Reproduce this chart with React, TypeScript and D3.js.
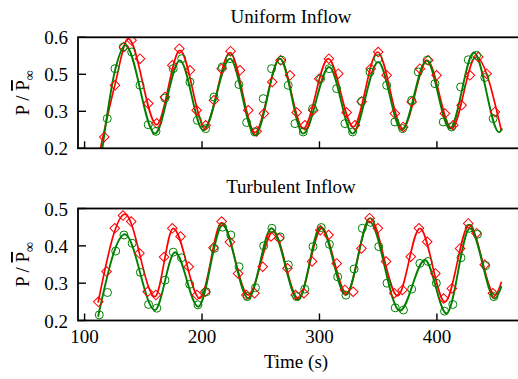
import React from "react";
import * as d3 from "d3";

const W = 518;
const H = 379;

// x axis
const xDomain = [94.4, 475];
const xTicks = [100, 200, 300, 400];

// y ticks (top panel: 4 evenly spaced ticks formatted to one decimal)
const topYDomain = [0.2, 0.6];
const topYTicks = [0.2, 0.3333, 0.4667, 0.6];
const botYDomain = [0.2, 0.5];
const botYTicks = [0.2, 0.3, 0.4, 0.5];

// ---- Uniform inflow: smooth curves (turning points) ----
const topRedLine: [number, number][] = [
  [112.5, 0.18], [125.9, 0.43], [137.2, 0.595], [161.4, 0.285], [181.2, 0.553],
  [202.5, 0.277], [223.8, 0.545], [245.1, 0.257], [266.3, 0.523], [286.2, 0.271],
  [307.5, 0.523], [328.8, 0.277], [349.5, 0.547], [370.8, 0.271], [391.7, 0.517],
  [412.5, 0.271], [433.2, 0.529], [455, 0.262],
];
const topGreenLine: [number, number][] = [
  [114.5, 0.18], [125.9, 0.48], [134.8, 0.571], [159.9, 0.253], [181.2, 0.517],
  [201, 0.265], [223.8, 0.523], [245.1, 0.247], [266.3, 0.523], [286.2, 0.253],
  [308.3, 0.493], [328.2, 0.253], [350, 0.511], [370, 0.265], [391.2, 0.517],
  [411, 0.271], [431.5, 0.545], [453, 0.258], [455.5, 0.272],
];
// markers (sampled data): times and values
const topRedTimes = [
  116.8, 125.9, 133.5, 140, 147.2, 154.2, 161.4, 168.4, 174.7, 180.7, 189.7, 195.4,
  203.1, 210.2, 216.7, 224.3, 232.3, 239.4, 246.5, 252.7, 259.8, 266.9, 274.9, 280.6,
  287.6, 294.7, 299.8, 308, 316, 323.1, 330.2, 335.9, 343.6, 350, 357.2, 364.2,
  371.3, 378.5, 385.5, 392.6, 399.7, 406.8, 413.9, 421, 428.1, 435.2, 442.3, 449.4,
];
const topRedMarkers = [
  0.241, 0.427, 0.565, 0.589, 0.523, 0.361, 0.29, 0.385, 0.499, 0.559, 0.481, 0.337,
  0.283, 0.373, 0.487, 0.55, 0.481, 0.337, 0.261, 0.325, 0.439, 0.517, 0.463, 0.329,
  0.283, 0.337, 0.451, 0.523, 0.469, 0.329, 0.283, 0.369, 0.487, 0.547, 0.463, 0.325,
  0.277, 0.367, 0.487, 0.517, 0.463, 0.325, 0.283, 0.355, 0.463, 0.529, 0.469, 0.331,
];
const topGreenTimes = [
  119.3, 125.9, 133, 140.1, 147.2, 154.2, 160.8, 168.4, 175.5, 182.7, 189.7, 196,
  203.1, 210.2, 217.2, 223.8, 231.4, 238, 245, 252.1, 259.2, 267.8, 273.4, 279.1,
  286.2, 294.2, 301, 308.3, 314.6, 321.7, 328.2, 335.9, 343, 350, 357.2, 364.2,
  370.8, 378.5, 384.1, 391.7, 398.3, 405.4, 412.5, 420.2, 426.7, 433.8, 440.8, 447.9,
];
const topGreenMarkers = [
  0.307, 0.487, 0.565, 0.547, 0.427, 0.285, 0.261, 0.381, 0.487, 0.523, 0.439, 0.301,
  0.271, 0.385, 0.493, 0.523, 0.43, 0.293, 0.259, 0.379, 0.487, 0.517, 0.427, 0.289,
  0.259, 0.343, 0.451, 0.487, 0.415, 0.289, 0.259, 0.369, 0.475, 0.523, 0.427, 0.295,
  0.271, 0.373, 0.475, 0.517, 0.433, 0.295, 0.277, 0.421, 0.519, 0.535, 0.455, 0.307,
];

// ---- Turbulent inflow ----
const botRedLine: [number, number][] = [
  [111.5, 0.248], [134.4, 0.485], [159.9, 0.264], [175.5, 0.447], [198.2, 0.259],
  [216.7, 0.462], [239.4, 0.268], [260.6, 0.438], [281.9, 0.259], [301.8, 0.447],
  [323.1, 0.273], [343, 0.474], [366.5, 0.266], [385.5, 0.447], [406.8, 0.25],
  [427.5, 0.456], [449.4, 0.268], [455, 0.304],
];
const botGreenLine: [number, number][] = [
  [111.5, 0.21], [134.4, 0.431], [159.9, 0.228], [177, 0.383], [196.8, 0.237],
  [217.5, 0.456], [239.4, 0.259], [259.2, 0.447], [281.9, 0.255], [301, 0.451],
  [322.5, 0.268], [342.4, 0.465], [368.5, 0.226], [389.8, 0.362], [408.2, 0.219],
  [428.1, 0.447], [449.4, 0.259], [455, 0.292],
];
const botRedStart = 111.7;
const botRedStep = 7.0;
const botRedMarkers = [
  0.25, 0.331, 0.447, 0.481, 0.465, 0.38, 0.277, 0.268, 0.37, 0.447, 0.425, 0.344,
  0.268, 0.277, 0.395, 0.465, 0.41, 0.326, 0.268, 0.273, 0.344, 0.425, 0.42, 0.34,
  0.268, 0.273, 0.358, 0.442, 0.429, 0.353, 0.282, 0.277, 0.393, 0.474, 0.447, 0.358,
  0.273, 0.282, 0.371, 0.447, 0.411, 0.326, 0.259, 0.286, 0.393, 0.46, 0.434, 0.349,
  0.273,
];
const botGreenStart = 112.5;
const botGreenStep = 7.0;
const botGreenMarkers = [
  0.215, 0.275, 0.386, 0.429, 0.407, 0.329, 0.243, 0.233, 0.308, 0.383, 0.368, 0.297,
  0.242, 0.277, 0.393, 0.45, 0.429, 0.344, 0.264, 0.288, 0.4, 0.447, 0.424, 0.349,
  0.264, 0.284, 0.398, 0.449, 0.404, 0.317, 0.268, 0.338, 0.447, 0.463, 0.398, 0.3,
  0.234, 0.228, 0.284, 0.353, 0.358, 0.3, 0.225, 0.243, 0.368, 0.447, 0.431, 0.347,
  0.264,
];
const botRedTimes = botRedMarkers.map((_, i) => botRedStart + i * botRedStep);
const botGreenTimes = botGreenMarkers.map((_, i) => botGreenStart + i * botGreenStep);

const RED = "#ff0000";
const GREEN = "#008000";
const FONT = "'Liberation Serif', 'DejaVu Serif', serif";

const xScale = d3.scaleLinear().domain(xDomain).range([78, 525]);
const fmt = d3.format(".1f");

type PanelProps = {
  id: string;
  title: string;
  titleY: number;
  top: number;
  bottom: number;
  yDomain: number[];
  yTicks: number[];
  redLine: [number, number][];
  greenLine: [number, number][];
  redTimes: number[];
  redVals: number[];
  greenTimes: number[];
  greenVals: number[];
  showX: boolean;
};

function Panel(p: PanelProps) {
  const y = d3.scaleLinear().domain(p.yDomain).range([p.bottom, p.top]);
  const line = d3
    .line<[number, number]>()
    .x((d) => xScale(d[0]))
    .y((d) => y(d[1]))
    .curve(d3.curveMonotoneX);
  const diamond = d3.symbol(d3.symbolSquare, 46)() as string;
  const [x0, x1] = xScale.range();
  const midY = (p.top + p.bottom) / 2;
  return (
    <g>
      <defs>
        <clipPath id={p.id}>
          <rect x={x0} y={p.top} width={x1 - x0} height={p.bottom - p.top} />
        </clipPath>
      </defs>
      <text x={291} y={p.titleY} textAnchor="middle" fontSize={19} fontFamily={FONT}>
        {p.title}
      </text>
      <g clipPath={`url(#${p.id})`}>
        <path d={line(p.redLine) || ""} fill="none" stroke={RED} strokeWidth={1.7} />
        <path d={line(p.greenLine) || ""} fill="none" stroke={GREEN} strokeWidth={1.9} />
        {p.redVals.map((v, i) => (
          <path
            key={"r" + i}
            d={diamond}
            transform={`translate(${xScale(p.redTimes[i])},${y(v)}) rotate(45)`}
            fill="none"
            stroke={RED}
            strokeWidth={1}
          />
        ))}
        {p.greenVals.map((v, i) => (
          <circle
            key={"g" + i}
            cx={xScale(p.greenTimes[i])}
            cy={y(v)}
            r={4}
            fill="none"
            stroke={GREEN}
            strokeWidth={1}
          />
        ))}
      </g>
      {/* frame */}
      <rect x={x0} y={p.top} width={x1 - x0} height={p.bottom - p.top} fill="none" stroke="#000" strokeWidth={1.8} />
      {/* x ticks */}
      {xTicks.map((t) => (
        <g key={"xt" + t}>
          <line x1={xScale(t)} x2={xScale(t)} y1={p.bottom} y2={p.bottom - 7} stroke="#000" strokeWidth={1.4} />
          {p.showX && (
            <text x={xScale(t)} y={p.bottom + 22} textAnchor="middle" fontSize={19} fontFamily={FONT}>
              {t}
            </text>
          )}
        </g>
      ))}
      {/* y ticks */}
      {p.yTicks.map((t) => (
        <g key={"yt" + t}>
          <line x1={x0} x2={x0 + 8} y1={y(t)} y2={y(t)} stroke="#000" strokeWidth={1.4} />
          <text x={68} y={y(t) + 7} textAnchor="end" fontSize={19} fontFamily={FONT}>
            {fmt(t)}
          </text>
        </g>
      ))}
      {/* y label */}
      <text transform={`translate(29,${midY}) rotate(-90)`} textAnchor="middle" fontSize={19} fontFamily={FONT}>
        P / <tspan style={{ textDecoration: "overline" }}>P</tspan>
        <tspan dy={5} fontSize={14}>∞</tspan>
      </text>
    </g>
  );
}

export default function App() {
  return (
    <svg
      width={W}
      height={H}
      viewBox={`0 0 ${W} ${H}`}
      style={{ position: "fixed", left: 0, top: 0, background: "#fff", overflow: "hidden" }}
    >
      <rect x={0} y={0} width={W} height={H} fill="#fff" />
      <Panel
        id="clipTop"
        title="Uniform Inflow"
        titleY={23}
        top={37.3}
        bottom={148.3}
        yDomain={topYDomain}
        yTicks={topYTicks}
        redLine={topRedLine}
        greenLine={topGreenLine}
        redTimes={topRedTimes}
        redVals={topRedMarkers}
        greenTimes={topGreenTimes}
        greenVals={topGreenMarkers}
        showX={false}
      />
      <Panel
        id="clipBot"
        title="Turbulent Inflow"
        titleY={193}
        top={208.5}
        bottom={320.5}
        yDomain={botYDomain}
        yTicks={botYTicks}
        redLine={botRedLine}
        greenLine={botGreenLine}
        redTimes={botRedTimes}
        redVals={botRedMarkers}
        greenTimes={botGreenTimes}
        greenVals={botGreenMarkers}
        showX={true}
      />
      <text x={296} y={368} textAnchor="middle" fontSize={19} fontFamily={FONT}>
        Time (s)
      </text>
    </svg>
  );
}
